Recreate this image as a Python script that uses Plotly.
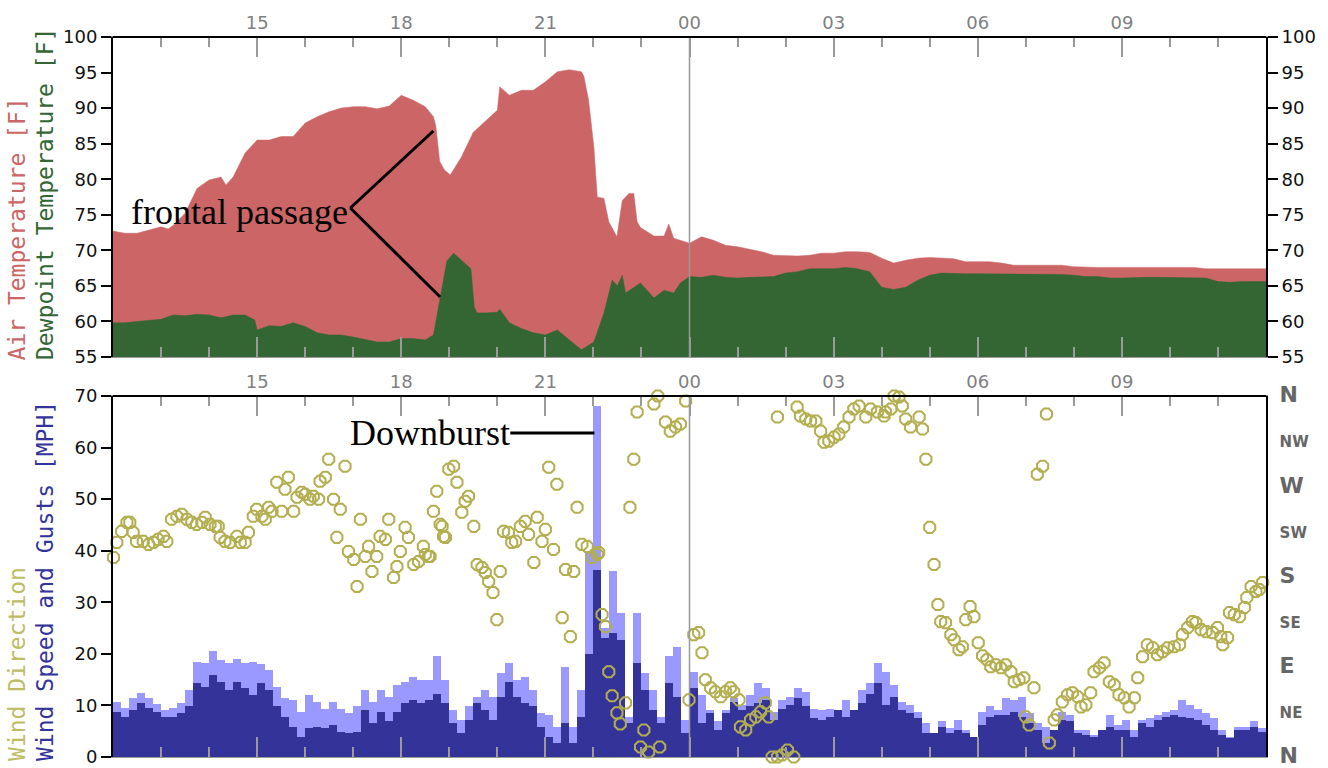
import plotly.graph_objects as go

# ---------------- data ----------------
hour_ticks = [12, 15, 18, 21, 24, 27, 30, 33, 36]
hour_labels = ["", "15", "18", "21", "00", "03", "06", "09", ""]
minor_hours = list(range(13, 36))

air_hours = [12.00, 12.25, 12.50, 12.75, 13.00, 13.15, 13.25, 13.50, 13.75, 14.00, 14.25, 14.35, 14.50,
             14.75, 15.00, 15.25, 15.50, 15.75, 16.00, 16.25, 16.50, 16.75, 17.00, 17.25, 17.50, 17.75,
             18.00, 18.25, 18.50, 18.67, 18.72, 18.80, 18.90, 19.02, 19.25, 19.50, 19.75, 20.00, 20.05,
             20.25, 20.50, 20.75, 21.00, 21.25, 21.50, 21.75, 21.80, 21.90, 22.01, 22.08, 22.22, 22.32,
             22.49, 22.60, 22.74, 22.84, 22.91, 22.98, 23.26, 23.47, 23.57, 23.67, 24.00, 24.25,
             24.50, 24.75, 25.00, 25.25, 25.50, 25.75, 26.00, 26.25, 26.50, 26.75, 27.00, 27.25, 27.50,
             27.75, 28.00, 28.25, 28.50, 28.75, 29.00, 29.25, 29.50, 29.75, 30.00, 30.25, 30.50, 30.75,
             31.00, 31.25, 31.50, 31.75, 32.00, 32.25, 32.50, 32.75, 33.00, 33.25, 33.50, 33.75, 34.00,
             34.25, 34.50, 34.75, 35.00, 35.25, 35.50, 35.75, 36.00]
air_temp = [72.7, 72.4, 72.4, 72.9, 73.3, 73.0, 73.5, 75.2, 78.7, 79.9, 80.3, 79.2, 80.3,
            83.7, 85.5, 85.5, 86.0, 86.0, 87.9, 88.8, 89.5, 90.0, 90.2, 90.2, 89.9, 90.3,
            91.8, 91.1, 90.2, 88.8, 87.5, 82.5, 81.3, 80.6, 83.1, 86.6, 88.1, 89.7, 93.0,
            91.8, 92.5, 92.5, 93.7, 95.1, 95.4, 95.1, 94.5, 91.1, 84.5, 77.5, 77.3, 74.0,
            71.9, 77.0, 78.0, 78.0, 74.0, 73.2, 72.0, 72.0, 73.7, 71.7, 71.0, 71.9,
            71.4, 70.7, 70.5, 70.2, 69.8, 69.3, 69.2, 69.2, 69.3, 69.6, 69.6, 69.8, 69.8,
            69.7, 68.9, 68.2, 68.6, 68.9, 69.0, 68.9, 68.8, 68.4, 68.4, 68.4, 68.2, 67.9,
            67.9, 67.9, 67.9, 67.9, 67.7, 67.6, 67.6, 67.6, 67.6, 67.6, 67.6, 67.6, 67.6,
            67.7, 67.6, 67.4, 67.4, 67.4, 67.4, 67.4, 67.4]

dew_hours = [12.00, 12.25, 12.50, 12.75, 13.00, 13.25, 13.50, 13.75, 14.00, 14.25, 14.50, 14.75, 14.95,
             15.00, 15.25, 15.50, 15.75, 16.00, 16.25, 16.50, 16.75, 17.00, 17.25, 17.50, 17.75, 18.00,
             18.25, 18.50, 18.67, 18.81, 18.95, 19.09, 19.25, 19.45, 19.52, 19.58, 19.75, 20.00, 20.05,
             20.25, 20.50, 20.75, 21.00, 21.25, 21.50, 21.75, 22.01, 22.15, 22.22, 22.39, 22.50, 22.60,
             22.67, 22.98, 23.26, 23.47, 23.67, 23.81, 24.00, 24.25, 24.50, 24.75, 25.00, 25.25, 25.50,
             25.75, 26.00, 26.25, 26.50, 26.75, 27.00, 27.25, 27.50, 27.75, 28.00, 28.25, 28.50, 28.75,
             29.00, 29.25, 29.50, 29.75, 30.00, 30.25, 30.50, 30.75, 31.00, 31.25, 31.50, 31.75, 32.00,
             32.25, 32.50, 32.75, 33.00, 33.25, 33.50, 33.75, 34.00, 34.25, 34.50, 34.75, 35.00, 35.25,
             35.50, 35.75, 36.00]
dewpoint = [59.8, 59.8, 60.0, 60.2, 60.3, 60.9, 60.8, 61.0, 60.9, 60.5, 60.9, 60.9, 60.2,
            58.8, 59.4, 59.3, 59.8, 59.3, 58.4, 58.1, 58.1, 57.8, 57.4, 57.1, 57.1, 57.6,
            57.6, 57.4, 58.1, 63.4, 68.5, 69.6, 68.6, 67.4, 62.0, 61.2, 61.2, 61.3, 61.7,
            59.8, 59.0, 58.4, 58.1, 58.8, 57.4, 56.0, 57.1, 60.0, 61.2, 65.8, 65.0, 66.5,
            64.0, 65.4, 63.3, 64.4, 64.0, 65.4, 66.3, 66.2, 66.5, 66.2, 66.1, 66.2, 66.3,
            66.3, 66.8, 67.0, 67.4, 67.4, 67.4, 67.6, 67.4, 67.0, 64.8, 64.5, 64.8, 65.8,
            66.5, 66.8, 66.7, 66.7, 66.7, 66.7, 66.7, 66.7, 66.6, 66.7, 66.7, 66.6, 66.5,
            66.3, 66.3, 66.1, 66.1, 66.2, 66.2, 66.2, 66.2, 66.2, 66.2, 66.1, 65.6, 65.5,
            65.6, 65.6, 65.6]

# wind speed / gusts, 10-minute slots from 12:00
wind_start_hour = 12.0
wind_slot_hours = 1.0 / 6.0
wind_gust = [10.7, 9.6, 11.4, 12.5, 11.4, 10.3, 9.1, 9.6, 10.4, 13.0,
             18.4, 18.2, 20.6, 18.8, 18.2, 19.1, 18.2, 18.4, 18.0, 16.9,
             13.6, 11.4, 11.0, 8.8, 12.0, 10.7, 9.4, 10.7, 9.4, 8.5,
             9.8, 13.0, 10.7, 13.0, 11.7, 14.0,
             14.6, 15.6, 14.9, 14.9,
             19.5, 14.9, 9.1, 7.2, 9.8, 11.7, 13.0, 11.7, 16.2, 18.2,
             14.9, 15.6, 13.0, 8.5, 8.1, 5.9, 17.5, 5.9, 13.0, 40.0,
             68.0, 25.0, 36.0, 28.0, 7.8, 28.0, 16.2, 13.0, 7.8, 19.5,
             21.4, 7.2,
             16.5, 12.0, 9.1, 6.9, 9.1, 11.4, 10.1, 12.0,
             14.3, 13.3, 8.8, 11.1, 11.7, 13.3, 12.7, 9.4, 9.1, 9.4,
             8.8, 11.1, 8.8, 13.0, 14.3, 18.2, 16.5, 14.0, 10.7, 10.1,
             8.8, 6.5, 3.9, 6.9, 5.6, 7.2, 5.2, 3.9,
             8.8, 9.8,
             9.1, 11.4, 11.1, 11.7, 8.5, 6.5, 5.9, 5.2, 8.8, 8.1,
             5.2, 5.2, 4.3, 5.2, 8.1, 6.2, 7.2, 5.2, 7.2, 7.5,
             8.1, 8.8, 9.1, 11.1, 10.1, 9.4, 8.5, 7.5, 5.2, 3.9,
             5.9, 5.9, 6.9, 5.6]
wind_speed = [8.8, 7.7, 9.1, 10.5, 9.6, 8.8, 7.8, 7.7, 8.5, 9.8,
              14.3, 13.6, 15.9, 14.6, 13.0, 14.6, 13.3, 12.0, 14.3, 13.0,
              9.8, 7.7, 5.9, 3.9, 5.6, 5.9, 5.6, 6.2, 4.9, 4.6,
              4.9, 9.1, 6.5, 8.8, 6.9, 8.8,
              10.5, 11.1, 10.4, 11.1,
              12.3, 10.4, 6.5, 4.6, 7.2, 10.4, 9.1, 7.2, 11.7, 14.6,
              11.7, 10.4, 9.8, 5.9, 3.9, 2.7, 6.5, 2.7, 7.8, 20.0,
              36.3, 23.0, 24.0, 22.7, 6.5, 18.2, 13.0, 9.1, 6.5, 14.3,
              11.7, 4.6,
              13.3, 6.5, 8.5, 5.2, 8.5, 10.7, 9.1, 9.8,
              10.4, 11.1, 7.2, 9.4, 10.1, 11.4, 9.8, 7.5, 7.2, 7.8,
              9.1, 7.8, 9.1, 10.4, 12.3, 14.3, 10.1, 11.7, 9.1, 8.5,
              7.5, 4.6, 4.6, 5.9, 4.6, 5.2, 4.6, 3.9,
              6.2, 7.8,
              8.1, 8.1, 8.8, 7.8, 6.5, 5.2, 2.7, 5.2, 7.2, 6.9,
              4.6, 4.3, 3.9, 5.2, 5.9, 5.2, 5.2, 3.9, 6.5, 5.9,
              7.2, 7.8, 8.1, 7.8, 7.5, 7.2, 6.2, 5.2, 4.3, 3.6,
              5.2, 5.2, 5.9, 4.9]

dir_hours = [12.01, 12.08, 12.18, 12.29, 12.35, 12.42, 12.49, 12.63, 12.74, 12.84, 12.94, 13.05, 13.12,
             13.22, 13.33, 13.43, 13.54, 13.64, 13.74, 13.85, 13.92, 14.02, 14.13, 14.19, 14.23, 14.33,
             14.44, 14.58, 14.65, 14.75, 14.82, 14.92, 14.99, 15.10, 15.17, 15.24, 15.31, 15.41, 15.51,
             15.58, 15.65, 15.76, 15.83, 15.93, 16.00, 16.10, 16.17, 16.28, 16.31, 16.42, 16.49, 16.59,
             16.66, 16.73, 16.83, 16.90, 17.01, 17.08, 17.15, 17.25, 17.32, 17.39, 17.49, 17.56, 17.67,
             17.74, 17.84, 17.91, 17.98, 18.08, 18.15, 18.26, 18.36, 18.46, 18.50, 18.57, 18.60, 18.67,
             18.74, 18.81, 18.85, 18.88, 18.92, 18.99,
             19.09, 19.16, 19.26, 19.33, 19.40, 19.51, 19.58, 19.68, 19.75, 19.82, 19.91, 19.99, 20.06,
             20.13, 20.23, 20.30, 20.38, 20.48, 20.58, 20.65, 20.76, 20.83, 20.93, 21.00, 21.07, 21.17,
             21.24, 21.35, 21.42, 21.52, 21.59, 21.66, 21.76, 21.87, 21.97, 22.08, 22.11, 22.18, 22.25,
             22.32, 22.39, 22.49, 22.56, 22.67, 22.76, 22.84, 22.91, 22.98, 23.05, 23.15, 23.26, 23.34,
             23.38, 23.50, 23.60, 23.71, 23.81, 23.92, 23.99,
             24.09, 24.19, 24.26, 24.33, 24.44, 24.54, 24.65, 24.75, 24.85, 24.92, 25.03, 25.06, 25.17,
             25.27, 25.38, 25.48, 25.58, 25.65, 25.72, 25.83, 25.93, 26.04, 26.17, 25.83, 26.24, 26.31,
             26.42, 26.52, 26.63, 26.73, 26.80, 26.90, 27.01, 27.11, 27.21, 27.32, 27.42, 27.53, 27.67,
             27.77, 27.91, 28.05, 28.08, 28.19, 28.26, 28.36, 28.43, 28.50, 28.60, 28.78, 28.85, 28.92,
             29.00, 29.09, 29.17, 29.23, 29.33, 29.44, 29.51, 29.61, 29.68, 29.75, 29.84, 29.92, 30.01,
             30.10, 30.19, 30.27, 30.38, 30.48, 30.58, 30.69, 30.76, 30.86, 30.96, 31.00, 31.07, 31.17,
             31.24, 31.35, 31.43, 31.49, 31.59, 31.66, 31.76, 31.87, 31.97, 32.08, 32.15, 32.25, 32.35,
             32.42, 32.53, 32.63, 32.74, 32.84, 32.94, 33.05, 33.15, 33.26, 33.33, 33.43, 33.53, 33.64,
             33.74, 33.85, 33.95, 34.09, 34.20, 34.26, 34.37, 34.47, 34.54, 34.65, 34.75, 34.89, 34.99,
             35.06, 35.10, 35.20, 35.24, 35.34, 35.45, 35.55, 35.60, 35.69, 35.79, 35.86, 35.93]
dir_deg = [199, 214, 225, 234, 234, 224, 215, 215, 212, 214, 217, 220, 215,
           237, 240, 242, 237, 234, 232, 234, 239, 232, 230, 230, 219, 215,
           214, 220, 214, 214, 224, 240, 247, 240, 237, 249, 245, 274, 245,
           267, 279, 245, 259, 264, 262, 257, 260, 257, 275, 279, 297, 257,
           219, 247, 290, 205, 197, 170, 237, 200, 210, 185, 200, 220, 217,
           237, 179, 190, 205, 229, 219, 192, 195, 210, 202, 200, 200, 245,
           265, 232, 230, 220, 219, 287,
           290, 274, 244, 255, 260, 230, 192, 189, 184, 175, 164, 137, 185,
           225, 224, 214, 215, 230, 235, 222, 194, 239, 215, 227, 289, 207,
           272, 139, 187, 120, 185, 249, 212, 210, 199, 202, 204, 142, 130,
           85, 61, 44, 33, 54, 249, 297, 344, 10, 27, 5, 352, 360,
           10, 334, 325, 329, 332, 355, 57,
           122, 124, 104, 77, 69, 65, 60, 65, 69, 65, 57, 30, 27,
           37, 40, 45, 54, 40, 0, 0, 2, 7, 0, 339, 349, 340,
           337, 335, 335, 325, 314, 315, 319, 322, 329, 339, 347, 350, 339,
           347, 344, 340, 344, 347, 360, 359, 350, 337, 329, 339, 327, 297,
           229, 192, 152, 135, 134, 122, 117, 107, 110, 137, 150, 140, 114,
           101, 97, 90, 92, 89, 92, 85, 75, 77, 79, 40, 32, 69,
           282, 290, 342, 14, 37, 42, 55, 62, 64, 60, 50, 52, 64,
           85, 89, 94, 75, 72, 62, 59, 50, 59, 79, 100, 112, 109,
           102, 105, 109, 110, 112, 122, 129, 135, 134, 127, 125, 124, 129,
           120, 112, 119, 144, 142, 140, 149, 159, 170, 165, 167, 174]

dir_tick_deg = [0, 45, 90, 135, 180, 225, 270, 315, 360]
dir_tick_names = ["N", "NE", "E", "SE", "S", "SW", "W", "NW", "N"]

assert len(air_hours) == len(air_temp)
assert len(dew_hours) == len(dewpoint)
assert len(wind_gust) == len(wind_speed) == 144
assert len(dir_hours) == len(dir_deg)

# ---------------- styles ----------------
AIR_COLOR = "#cc6666"
DEW_COLOR = "#336633"
GUST_COLOR = "#9999ff"
SPEED_COLOR = "#333399"
DIR_COLOR = "#b3ae4f"
DIR_TITLE_COLOR = "#bdbd66"
TICK_GRAY = "#9a9a9a"

wind_hours = [wind_start_hour + (i + 0.5) * wind_slot_hours for i in range(len(wind_speed))]

fig = go.Figure()
fig.add_trace(go.Scatter(x=air_hours, y=air_temp, mode="lines", fill="tozeroy",
                         fillcolor=AIR_COLOR, line=dict(color=AIR_COLOR, width=0.5),
                         xaxis="x", yaxis="y", hoverinfo="skip"))
fig.add_trace(go.Scatter(x=dew_hours, y=dewpoint, mode="lines", fill="tozeroy",
                         fillcolor=DEW_COLOR, line=dict(color=DEW_COLOR, width=0.5),
                         xaxis="x", yaxis="y", hoverinfo="skip"))
fig.add_trace(go.Bar(x=wind_hours, y=wind_gust, width=wind_slot_hours,
                     marker=dict(color=GUST_COLOR, line=dict(width=0)),
                     xaxis="x2", yaxis="y2"))
fig.add_trace(go.Bar(x=wind_hours, y=wind_speed, width=wind_slot_hours,
                     marker=dict(color=SPEED_COLOR, line=dict(width=0)),
                     xaxis="x2", yaxis="y2"))
fig.add_trace(go.Scatter(x=dir_hours, y=dir_deg, mode="markers",
                         marker=dict(symbol="octagon-open", size=12, color=DIR_COLOR,
                                     line=dict(color=DIR_COLOR, width=2)),
                         cliponaxis=False, xaxis="x2", yaxis="y4"))
# empty trace so the right-hand temperature axis is drawn
fig.add_trace(go.Scatter(x=[None], y=[None], xaxis="x", yaxis="y3", showlegend=False))

TOP_DOMAIN = [0.5556, 1.0]
BOT_DOMAIN = [0.0, 0.5014]

xcommon = dict(range=[12, 36], tickmode="array", tickvals=hour_ticks, ticktext=hour_labels,
               side="top", ticks="inside", ticklen=20, tickwidth=1.5, tickcolor=TICK_GRAY,
               mirror="ticks", showline=True, linecolor=TICK_GRAY, linewidth=1,
               showgrid=False, zeroline=False,
               tickfont=dict(family="DejaVu Sans", size=18, color="#808080"),
               minor=dict(tickmode="array", tickvals=minor_hours, ticks="inside", ticklen=10,
                          tickwidth=1.5, tickcolor=TICK_GRAY, showgrid=False))

ycommon = dict(ticks="outside", ticklen=10, tickwidth=1.5, tickcolor="black",
               showline=True, linecolor="black", linewidth=2, showgrid=False, zeroline=False,
               tickfont=dict(family="DejaVu Sans", size=18, color="#111"),
               ticklabeloverflow="allow")

dir_ticktext = [(f'<span style="font-size:22px"><b>{n}</b></span>' if len(n) == 1
                 else f'<span style="font-size:15px"><b>{n}</b></span>')
                for n in dir_tick_names]

fig.update_layout(
    width=1328, height=768, autosize=False,
    margin=dict(l=113, r=62, t=37, b=11, autoexpand=False),
    paper_bgcolor="white", plot_bgcolor="white",
    showlegend=False, barmode="overlay", bargap=0,
    xaxis=dict(domain=[0, 1], anchor="y", **xcommon),
    xaxis2=dict(domain=[0, 1], anchor="y2", **xcommon),
    yaxis=dict(domain=TOP_DOMAIN, range=[55, 100], dtick=5, anchor="x", side="left", **ycommon),
    yaxis3=dict(range=[55, 100], dtick=5, overlaying="y", anchor="x", side="right", **ycommon),
    yaxis2=dict(domain=BOT_DOMAIN, range=[0, 70], dtick=10, anchor="x2", side="left", **ycommon),
    yaxis4=dict(range=[0, 360], overlaying="y2", anchor="x2", side="right",
                tickmode="array", tickvals=dir_tick_deg, ticktext=dir_ticktext,
                ticks="", ticklabelstandoff=8, ticklabeloverflow="allow",
                showline=True, linecolor="black", linewidth=2,
                showgrid=False, zeroline=False,
                tickfont=dict(family="DejaVu Sans", size=18, color="#666")),
)

# ---------------- annotations & shapes ----------------
MIDNIGHT = 24
shapes = [
    dict(type="line", xref="x", yref="y domain", x0=MIDNIGHT, x1=MIDNIGHT, y0=0, y1=1,
         line=dict(color="#999", width=1.5), layer="above"),
    dict(type="line", xref="x2", yref="y2 domain", x0=MIDNIGHT, x1=MIDNIGHT, y0=0, y1=1,
         line=dict(color="#999", width=1.5), layer="above"),
    dict(type="line", xref="paper", yref="y domain", x0=0, x1=1, y0=1, y1=1,
         line=dict(color="black", width=2), layer="above"),
    dict(type="line", xref="paper", yref="y2 domain", x0=0, x1=1, y0=1, y1=1,
         line=dict(color="black", width=2), layer="above"),
]

FRONT_APEX = (16.94, 75.95)
FRONT_UP = (18.667, 86.78)
FRONT_LOW = (18.81, 63.44)
for end in (FRONT_UP, FRONT_LOW):
    shapes.append(dict(type="line", xref="x", yref="y", x0=FRONT_APEX[0], y0=FRONT_APEX[1],
                       x1=end[0], y1=end[1], line=dict(color="black", width=3), layer="above"))

DOWNBURST_LINE = (20.27, 22.02, 62.8)
shapes.append(dict(type="line", xref="x2", yref="y2", x0=DOWNBURST_LINE[0], x1=DOWNBURST_LINE[1],
                   y0=DOWNBURST_LINE[2], y1=DOWNBURST_LINE[2],
                   line=dict(color="black", width=3), layer="above"))

TITLE_FONT = "DejaVu Sans Mono"
TITLE_SIZE = 23
annotations = [
    dict(text="frontal passage", x=14.63, y=75.4, xref="x", yref="y", showarrow=False,
         xanchor="center", yanchor="middle",
         font=dict(family="Liberation Serif", size=36, color="black")),
    dict(text="Downburst", x=18.6, y=62.8, xref="x2", yref="y2", showarrow=False,
         xanchor="center", yanchor="middle",
         font=dict(family="Liberation Serif", size=36, color="black")),
    dict(text="Air Temperature [F]", textangle=-90, xref="paper", yref="paper",
         x=-0.0833, y=0.5486, xanchor="center", yanchor="bottom", showarrow=False,
         font=dict(family=TITLE_FONT, size=TITLE_SIZE, color=AIR_COLOR)),
    dict(text="Dewpoint Temperature [F]", textangle=-90, xref="paper", yref="paper",
         x=-0.0590, y=0.5486, xanchor="center", yanchor="bottom", showarrow=False,
         font=dict(family=TITLE_FONT, size=TITLE_SIZE, color=DEW_COLOR)),
    dict(text="Wind Direction", textangle=-90, xref="paper", yref="paper",
         x=-0.0833, y=-0.0083, xanchor="center", yanchor="bottom", showarrow=False,
         font=dict(family=TITLE_FONT, size=TITLE_SIZE, color=DIR_TITLE_COLOR)),
    dict(text="Wind Speed and Gusts [MPH]", textangle=-90, xref="paper", yref="paper",
         x=-0.0590, y=-0.0083, xanchor="center", yanchor="bottom", showarrow=False,
         font=dict(family=TITLE_FONT, size=TITLE_SIZE, color=SPEED_COLOR)),
]

fig.update_layout(shapes=shapes, annotations=annotations)
fig.write_html("out.html",
               config={"displayModeBar": False},
               post_script="document.body.style.margin='0';document.body.style.padding='0';"
                           "document.documentElement.style.overflow='hidden';")
